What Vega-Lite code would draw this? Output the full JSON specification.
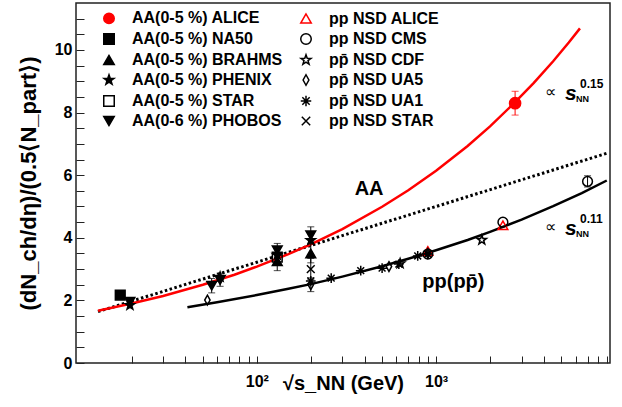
{
  "$schema": "https://vega.github.io/schema/vega-lite/v6.json",
  "width": 534,
  "height": 360,
  "autosize": {"type": "none"},
  "padding": {"left": 76, "top": 3, "right": 12, "bottom": 44},
  "background": "white",
  "config": {
    "font": "Liberation Sans",
    "view": {"stroke": "#222222", "strokeWidth": 1.5},
    "axis": {
      "grid": false,
      "domain": false,
      "tickColor": "#222222",
      "tickWidth": 1,
      "labelFont": "Liberation Sans",
      "labelFontWeight": "bold",
      "labelFontSize": 16,
      "labelColor": "black",
      "titleFont": "Liberation Sans",
      "titleFontWeight": "bold",
      "titleColor": "black"
    },
    "legend": {
      "orient": "none",
      "legendX": 25,
      "legendY": 7,
      "columns": 2,
      "labelFont": "Liberation Sans",
      "labelFontSize": 16,
      "labelFontWeight": "bold",
      "labelColor": "black",
      "labelOffset": 15,
      "labelLimit": 300,
      "rowPadding": 3,
      "columnPadding": 14,
      "symbolStrokeWidth": 1.5,
      "symbolSize": 110
    }
  },
  "datasets": {
    "curves": [
      {"curve": "AA", "x": 13, "y": 1.67},
      {"curve": "AA", "x": 16, "y": 1.78},
      {"curve": "AA", "x": 20, "y": 1.9},
      {"curve": "AA", "x": 30, "y": 2.14},
      {"curve": "AA", "x": 50, "y": 2.5},
      {"curve": "AA", "x": 75, "y": 2.82},
      {"curve": "AA", "x": 100, "y": 3.08},
      {"curve": "AA", "x": 150, "y": 3.48},
      {"curve": "AA", "x": 200, "y": 3.79},
      {"curve": "AA", "x": 300, "y": 4.28},
      {"curve": "AA", "x": 500, "y": 4.99},
      {"curve": "AA", "x": 700, "y": 5.52},
      {"curve": "AA", "x": 1000, "y": 6.14},
      {"curve": "AA", "x": 1500, "y": 6.93},
      {"curve": "AA", "x": 2000, "y": 7.56},
      {"curve": "AA", "x": 2760, "y": 8.33},
      {"curve": "AA", "x": 3500, "y": 8.94},
      {"curve": "AA", "x": 4500, "y": 9.64},
      {"curve": "AA", "x": 5500, "y": 10.24},
      {"curve": "AA", "x": 6350, "y": 10.69},
      {"curve": "pp", "x": 41, "y": 1.78},
      {"curve": "pp", "x": 60, "y": 1.94},
      {"curve": "pp", "x": 100, "y": 2.17},
      {"curve": "pp", "x": 150, "y": 2.37},
      {"curve": "pp", "x": 200, "y": 2.52},
      {"curve": "pp", "x": 300, "y": 2.76},
      {"curve": "pp", "x": 500, "y": 3.09},
      {"curve": "pp", "x": 700, "y": 3.33},
      {"curve": "pp", "x": 1000, "y": 3.6},
      {"curve": "pp", "x": 1500, "y": 3.93},
      {"curve": "pp", "x": 2000, "y": 4.19},
      {"curve": "pp", "x": 3000, "y": 4.58},
      {"curve": "pp", "x": 4500, "y": 5.01},
      {"curve": "pp", "x": 6500, "y": 5.43},
      {"curve": "pp", "x": 8960, "y": 5.83},
      {"curve": "AAlog", "x": 13, "y": 1.64},
      {"curve": "AAlog", "x": 100, "y": 3.22},
      {"curve": "AAlog", "x": 1000, "y": 5.0},
      {"curve": "AAlog", "x": 8960, "y": 6.7}
    ],
    "points": [
      {"series": "AA(0-5 %) ALICE", "x": 2760, "y": 8.3},
      {"series": "pp NSD ALICE", "x": 900, "y": 3.58},
      {"series": "pp NSD ALICE", "x": 2360, "y": 4.4},
      {"series": "AA(0-5 %) NA50", "x": 17.3, "y": 2.17},
      {"series": "pp NSD CMS", "x": 900, "y": 3.48},
      {"series": "pp NSD CMS", "x": 2360, "y": 4.5},
      {"series": "pp NSD CMS", "x": 7000, "y": 5.8},
      {"series": "AA(0-5 %) BRAHMS", "x": 130, "y": 3.25},
      {"series": "AA(0-5 %) BRAHMS", "x": 200, "y": 3.5},
      {"series": "pp\u0304 NSD CDF", "x": 630, "y": 3.18},
      {"series": "pp\u0304 NSD CDF", "x": 1800, "y": 3.93},
      {"series": "AA(0-5 %) PHENIX", "x": 19.6, "y": 1.85},
      {"series": "AA(0-5 %) PHENIX", "x": 62.4, "y": 2.75},
      {"series": "AA(0-5 %) PHENIX", "x": 130, "y": 3.45},
      {"series": "AA(0-5 %) PHENIX", "x": 200, "y": 3.92},
      {"series": "pp\u0304 NSD UA5", "x": 53, "y": 2.01},
      {"series": "pp\u0304 NSD UA5", "x": 200, "y": 2.5},
      {"series": "pp\u0304 NSD UA5", "x": 546, "y": 3.08},
      {"series": "pp\u0304 NSD UA5", "x": 900, "y": 3.5},
      {"series": "AA(0-5 %) STAR", "x": 130, "y": 3.38},
      {"series": "pp\u0304 NSD UA1", "x": 200, "y": 2.62},
      {"series": "pp\u0304 NSD UA1", "x": 260, "y": 2.71},
      {"series": "pp\u0304 NSD UA1", "x": 380, "y": 2.95},
      {"series": "pp\u0304 NSD UA1", "x": 500, "y": 3.03},
      {"series": "pp\u0304 NSD UA1", "x": 620, "y": 3.16},
      {"series": "pp\u0304 NSD UA1", "x": 790, "y": 3.42},
      {"series": "pp\u0304 NSD UA1", "x": 900, "y": 3.48},
      {"series": "AA(0-6 %) PHOBOS", "x": 19.6, "y": 1.96},
      {"series": "AA(0-6 %) PHOBOS", "x": 56, "y": 2.47},
      {"series": "AA(0-6 %) PHOBOS", "x": 62.4, "y": 2.65},
      {"series": "AA(0-6 %) PHOBOS", "x": 130, "y": 3.6},
      {"series": "AA(0-6 %) PHOBOS", "x": 200, "y": 4.08},
      {"series": "pp NSD STAR", "x": 200, "y": 3.0}
    ],
    "errors": [
      {"series": "AA(0-5 %) ALICE", "x": 2760, "y": 7.92, "y2": 8.68},
      {"series": "AA(0-5 %) STAR", "x": 130, "y": 2.95, "y2": 3.82},
      {"series": "AA(0-6 %) PHOBOS", "x": 200, "y": 3.82, "y2": 4.35},
      {"series": "AA(0-5 %) BRAHMS", "x": 200, "y": 3.2, "y2": 3.8},
      {"series": "pp NSD STAR", "x": 200, "y": 2.66, "y2": 3.34},
      {"series": "pp\u0304 NSD UA5", "x": 200, "y": 2.28, "y2": 2.72},
      {"series": "AA(0-6 %) PHOBOS", "x": 56, "y": 2.24, "y2": 2.7},
      {"series": "AA(0-6 %) PHOBOS", "x": 62.4, "y": 2.45, "y2": 2.87},
      {"series": "pp NSD CMS", "x": 7000, "y": 5.62, "y2": 5.98}
    ],
    "labels": [
      {"x": 423, "y": 5.56, "t": "AA"},
      {"x": 1249, "y": 2.6, "t": "pp(pp\u0304)"}
    ],
    "powers": [
      {"x": 4055, "y": 8.66, "e": "0.15"},
      {"x": 4055, "y": 4.35, "e": "0.11"}
    ]
  },
  "encoding": {
    "x": {
      "field": "x",
      "type": "quantitative",
      "scale": {"type": "log", "domain": [9.8, 9340], "nice": false},
      "axis": {
        "title": "√s_NN (GeV)",
        "titleFontSize": 20,
        "titlePadding": -16,
        "values": [20, 30, 40, 50, 60, 70, 80, 90, 100, 200, 300, 400, 500, 600, 700, 800, 900, 1000, 2000, 3000, 4000, 5000, 6000, 7000, 8000, 9000],
        "labelExpr": "datum.value == 100 ? '10²' : (datum.value == 1000 ? '10³' : '')",
        "tickSize": -7,
        "labelPadding": 17,
        "labelFlush": false,
        "labelOverlap": false,
        "encode": {
          "ticks": {"update": {"y2": {"signal": "(datum.value == 100 || datum.value == 1000) ? -13 : -7"}}}
        }
      }
    },
    "y": {
      "field": "y",
      "type": "quantitative",
      "scale": {"domain": [0, 11.5], "nice": false},
      "axis": {
        "title": "(dN_ch/dη)/(0.5⟨N_part⟩)",
        "titleFontSize": 22,
        "titlePadding": 14,
        "values": [0, 0.5, 1, 1.5, 2, 2.5, 3, 3.5, 4, 4.5, 5, 5.5, 6, 6.5, 7, 7.5, 8, 8.5, 9, 9.5, 10, 10.5, 11],
        "labelExpr": "datum.value % 2 == 0 ? format(datum.value, 'd') : ''",
        "tickSize": -8,
        "labelPadding": 12,
        "labelFlush": false,
        "labelOverlap": false,
        "encode": {
          "ticks": {"update": {"x2": {"signal": "datum.value % 2 == 0 ? 15 : 8"}}}
        }
      }
    }
  },
  "layer": [
    {
      "data": {"name": "curves"},
      "transform": [{"filter": "datum.curve == 'AAlog'"}],
      "mark": {"type": "line", "color": "black", "strokeWidth": 3, "strokeDash": [2.5, 2.5], "strokeCap": "butt"}
    },
    {
      "data": {"name": "curves"},
      "transform": [{"filter": "datum.curve == 'pp'"}],
      "mark": {"type": "line", "color": "black", "strokeWidth": 2.5}
    },
    {
      "data": {"name": "curves"},
      "transform": [{"filter": "datum.curve == 'AA'"}],
      "mark": {"type": "line", "color": "#ff0000", "strokeWidth": 2.5}
    },
    {
      "data": {"name": "errors"},
      "transform": [{"filter": "datum.series != 'AA(0-5 %) ALICE'"}],
      "mark": {"type": "rule", "strokeWidth": 1, "color": "black"},
      "encoding": {"y2": {"field": "y2"}}
    },
    {
      "data": {"name": "errors"},
      "transform": [{"filter": "datum.series == 'AA(0-5 %) ALICE'"}],
      "mark": {"type": "rule", "strokeWidth": 1, "color": "#ff0000"},
      "encoding": {"y2": {"field": "y2"}}
    },
    {
      "data": {"name": "errors"},
      "transform": [{"filter": "datum.series != 'AA(0-5 %) ALICE'"}, {"fold": ["y", "y2"], "as": ["end", "y"]}],
      "mark": {"type": "tick", "orient": "horizontal", "size": 7, "thickness": 1, "color": "black"}
    },
    {
      "data": {"name": "errors"},
      "transform": [{"filter": "datum.series == 'AA(0-5 %) ALICE'"}, {"fold": ["y", "y2"], "as": ["end", "y"]}],
      "mark": {"type": "tick", "orient": "horizontal", "size": 7, "thickness": 1, "color": "#ff0000"}
    },
    {
      "data": {"name": "points"},
      "transform": [{"filter": "datum.series != 'AA(0-5 %) ALICE'"}],
      "mark": {"type": "point", "strokeWidth": 1.5, "opacity": 1, "size": 95},
      "encoding": {
        "shape": {
          "field": "series",
          "type": "nominal",
          "title": null,
          "scale": {
            "domain": ["AA(0-5 %) ALICE", "AA(0-5 %) NA50", "AA(0-5 %) BRAHMS", "AA(0-5 %) PHENIX", "AA(0-5 %) STAR", "AA(0-6 %) PHOBOS", "pp NSD ALICE", "pp NSD CMS", "pp\u0304 NSD CDF", "pp\u0304 NSD UA5", "pp\u0304 NSD UA1", "pp NSD STAR"],
            "range": ["circle", "square", "triangle-up", "M0,-1L0.235,-0.324L0.951,-0.309L0.38,0.124L0.588,0.809L0,0.4L-0.588,0.809L-0.38,0.124L-0.951,-0.309L-0.235,-0.324Z", "square", "triangle-down", "triangle-up", "circle", "M0,-1L0.235,-0.324L0.951,-0.309L0.38,0.124L0.588,0.809L0,0.4L-0.588,0.809L-0.38,0.124L-0.951,-0.309L-0.235,-0.324Z", "M0,-1L0.55,0L0,1L-0.55,0Z", "M-1,0L1,0M0,-1L0,1M-0.7,-0.7L0.7,0.7M-0.7,0.7L0.7,-0.7", "M-0.8,-0.8L0.8,0.8M-0.8,0.8L0.8,-0.8"]
          }
        },
        "fill": {
          "field": "series",
          "type": "nominal",
          "title": null,
          "scale": {
            "domain": ["AA(0-5 %) ALICE", "AA(0-5 %) NA50", "AA(0-5 %) BRAHMS", "AA(0-5 %) PHENIX", "AA(0-5 %) STAR", "AA(0-6 %) PHOBOS", "pp NSD ALICE", "pp NSD CMS", "pp\u0304 NSD CDF", "pp\u0304 NSD UA5", "pp\u0304 NSD UA1", "pp NSD STAR"],
            "range": ["#ff0000", "black", "black", "black", "transparent", "black", "transparent", "transparent", "transparent", "transparent", "transparent", "transparent"]
          }
        },
        "stroke": {
          "field": "series",
          "type": "nominal",
          "title": null,
          "scale": {
            "domain": ["AA(0-5 %) ALICE", "AA(0-5 %) NA50", "AA(0-5 %) BRAHMS", "AA(0-5 %) PHENIX", "AA(0-5 %) STAR", "AA(0-6 %) PHOBOS", "pp NSD ALICE", "pp NSD CMS", "pp\u0304 NSD CDF", "pp\u0304 NSD UA5", "pp\u0304 NSD UA1", "pp NSD STAR"],
            "range": ["#ff0000", "black", "black", "black", "black", "black", "#ff0000", "black", "black", "black", "black", "black"]
          }
        }
      }
    },
    {
      "data": {"name": "points"},
      "transform": [{"filter": "datum.series == 'AA(0-5 %) ALICE'"}],
      "mark": {"type": "circle", "size": 160, "color": "#ff0000", "opacity": 1}
    },
    {
      "data": {"name": "labels"},
      "mark": {"type": "text", "fontSize": 20, "fontWeight": "bold", "align": "center", "baseline": "middle", "color": "black"},
      "encoding": {"text": {"field": "t"}}
    },
    {
      "data": {"name": "powers"},
      "mark": {"type": "text", "text": "∝", "fontSize": 16, "align": "left", "baseline": "middle", "color": "black"},
      "encoding": {}
    },
    {
      "data": {"name": "powers"},
      "mark": {"type": "text", "text": "s", "fontSize": 21, "fontWeight": "bold", "fontStyle": "italic", "align": "left", "baseline": "middle", "dx": 20, "dy": 2, "color": "black"},
      "encoding": {}
    },
    {
      "data": {"name": "powers"},
      "mark": {"type": "text", "fontSize": 12, "fontWeight": "bold", "align": "left", "baseline": "middle", "dx": 35, "dy": -8, "color": "black"},
      "encoding": {"text": {"field": "e"}}
    },
    {
      "data": {"name": "powers"},
      "mark": {"type": "text", "text": "NN", "fontSize": 9, "fontWeight": "bold", "align": "left", "baseline": "middle", "dx": 31, "dy": 7, "color": "black"},
      "encoding": {}
    }
  ]
}
